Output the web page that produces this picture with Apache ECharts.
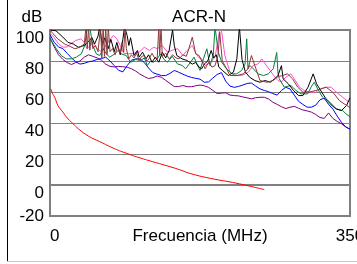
<!DOCTYPE html>
<html><head><meta charset="utf-8">
<script src="https://cdn.jsdelivr.net/npm/echarts@6/dist/echarts.min.js"></script>
<style>html,body{margin:0;padding:0;background:#fff}#c{width:357px;height:264px}</style>
</head><body><div id="c"></div>
<script>
const title = 'ACR-N';
const yName = 'dB';
const xName = 'Frecuencia (MHz)';
const yTicks = [-20, 0, 20, 40, 60, 80, 100];
const xTicks = [0, 350];

const black = [[0,100],[7,99.5],[15,95.4],[21,92],[27,91],[33,88.9],[40,90],[46,93.2],[49,95],[52,91],[56,96],[58,102],[61,90],[64,95],[68,88],[71,94],[75,86],[78,92],[82,84],[85,94],[87,102],[90,96.5],[92,90],[94,95],[98,83.5],[102,86.8],[104,82.5],[108,85.7],[112,81.4],[115,84],[119,79.2],[123,82.5],[127,79.2],[131,85.7],[135,82],[139,86.8],[143,100],[145,90],[148,83.5],[154,81.4],[160,80.3],[166,78],[170,79],[174,76],[177,75],[180,78],[184,80],[188,86.8],[191,82],[194,84],[197,76],[201,74],[208,70.6],[214,72.8],[218,81.4],[221,102],[224,81],[228,72.8],[233,69.5],[239,67.4],[245,66.3],[251,67.4],[257,66.3],[262,68.5],[266,70.6],[268,70.6],[270,77],[272,68.5],[278,65.3],[284,61],[290,57.7],[295,57.7],[301,63.1],[307,71.7],[311,65.3],[317,59.9],[322,55.6],[328,52.4],[334,49.1],[340,48],[346,51.3],[350,56.3]];

const brown = [[0,100],[2,98.6],[9,94.3],[17,91],[23,89.5],[29,87.9],[35,88.9],[40,91],[42,102],[43.5,88],[45,102],[46.5,87],[48,95],[50,88],[53,90],[56,86],[59,102],[60.5,82],[62,102],[63.5,83],[65,102],[66.5,84],[68,102],[70,86],[73,88],[76,84],[79,90],[82,85],[84,92],[86,85.7],[87.5,102],[89,88],[92,81.4],[95,84],[98,82],[101,85],[104,80.3],[107,83],[110,83.5],[113,80],[115.5,81.4],[119,85],[122,82],[125,81.4],[127,102],[128,84],[129.5,102],[131,83],[135,85],[139,81.4],[143,84],[147,82],[150.5,81.4],[155,84],[159,83],[162,87.9],[166,95.4],[170,84.6],[174,83.5],[177,80],[181,75],[185,79.2],[189,76],[192.5,77],[196,83.5],[198,98.6],[201,80],[204,77.1],[210,70.6],[218,70.6],[225.5,71.7],[231,75],[235,83.5],[239,77],[245,67.4],[253,66.3],[260.5,67.4],[266,70],[271.5,70.6],[277,71.7],[283,68.5],[289,63.1],[295,59.9],[302.5,59.9],[310,61],[316,62],[322,63.1],[330,59.9],[337.5,54.5],[343,52.4],[350,50]];

const pink = [[0,98],[5,95],[10,91],[15,89],[20,89],[24,91],[30,93.2],[36,94.3],[40,92],[43,88],[47,90],[50,92],[55,88],[60,86],[65,90],[70,93.9],[74,96.5],[78,94.3],[82,90],[84,91],[86,85],[92,84.6],[98,85],[104,85.7],[110,88.9],[116,86.8],[121,88.9],[125,88],[131,90],[137,85.7],[143,87],[149,87.9],[155,83.5],[160,86.8],[166,90],[170,85],[174,82],[177,81.4],[181,77.1],[187,79],[192.5,82.5],[196.3,94.3],[198.3,102],[200.3,98.6],[204,83.5],[210,72.8],[216,70.6],[223.6,70.6],[231.3,72.8],[237,77.1],[243,78.2],[247,81.4],[251,78.2],[256.7,73.9],[262.5,69.5],[266,67.4],[270,66.5],[275,69.5],[281,71.7],[285,68.5],[291,63.1],[296.7,61],[302.5,59.9],[310,59.9],[316,62],[322,63.1],[328,63.1],[331.7,61],[341.5,56.6],[350,53]];

const green = [[0,95],[1.5,93.2],[7.4,87.9],[13,83.5],[19,81.4],[25,81.4],[30.7,82.5],[36.5,84.6],[40.5,90],[43.5,102],[46.3,102],[50,90],[54,84.6],[58,83.5],[62,87.9],[65.7,84.6],[69.7,82.5],[75.5,84.6],[79.3,86.8],[83,84.6],[89,83.5],[94,79.2],[100,81],[105.8,80.3],[110,82],[113.5,77.1],[117.5,80],[121.3,79.2],[125,81.4],[129,84.6],[133,81],[137,79.2],[142.7,83],[148.5,78.2],[154.3,77.1],[158.3,75],[164,79.2],[168,82.5],[171.5,78],[175,73.9],[179,81.4],[183,87.9],[186.7,77],[190.5,84],[192.5,102],[194.5,102],[196.3,85.7],[200.3,79.2],[206,75],[212,71.7],[217.8,71.7],[223.6,73.9],[227.5,78],[229.5,94.3],[231,75],[233.3,77.1],[237,75],[243,71.7],[249,70.6],[254.7,71.7],[260.5,75],[264.5,85.5],[266,72],[267.5,68.5],[273.3,63.1],[281,64.2],[287,61],[292.8,58.8],[300.7,58.8],[304.5,63.1],[308.3,66.3],[312.3,62],[318,56.6],[326,52.4],[333.7,49.1],[341.5,48],[345.3,45.9],[350,44]];

const blue = [[0,97],[5,92],[10,89],[15,88],[20,85],[25,82],[30,79.5],[35,78],[40,78.5],[45,79.5],[50,80],[55,81],[60,81.5],[65,82.5],[70,80],[75,77],[80,74],[85,73],[90,77],[95,80.5],[100,81.4],[105,81.4],[110,79],[115,75.5],[120,72.5],[125,71.5],[130,70.6],[135,70.6],[140,72],[145,73.9],[150,72.8],[155,71.5],[160,70.3],[165,69.4],[170,68.8],[175,68.3],[180,66.3],[185,66.5],[190,69],[195,71.3],[200,72.5],[205,67],[210,63.8],[215,63],[220,63.6],[225,64.5],[230,65.5],[235,65.8],[240,63.8],[245,62],[250,61],[255,60.2],[260,59],[265,58],[270,61],[275,63],[280,62],[285,58],[290,54],[295,52],[300,50.2],[305,50.2],[310,51.5],[315,55],[320,56],[325,52],[330,49],[335,44.5],[340,40.5],[345,37.5],[350,36]];

const purple = [[0,95],[5,89],[10,84],[15,81],[20,79],[25,77.7],[30,79],[35,80],[40,82.5],[45,84],[50,83],[55,82],[60,80.5],[65,78],[70,76.5],[75,76.2],[80,76.5],[85,76.3],[90,76],[95,75],[100,73.5],[105,71.5],[110,70],[115,68.7],[120,69.2],[125,70.3],[130,69.5],[135,67.5],[140,65.5],[145,63.5],[150,63.5],[155,64.2],[160,63.4],[165,63.4],[170,64],[175,64.5],[180,64],[185,63],[190,61],[195,59],[200,59.3],[205,59.5],[210,58],[215,57.7],[220,57.5],[225,56.8],[230,56.2],[235,55.6],[240,56.3],[245,56.6],[250,56.6],[255,55.5],[260,53.4],[265,52],[270,50.5],[275,49.3],[280,50.2],[285,50.7],[290,49.5],[295,48.4],[300,47.8],[305,47],[310,45.5],[315,43.5],[320,43],[325,46.5],[330,43],[335,41],[340,39.5],[345,37.5],[350,36]];

const limit = [[1,62],[3,59],[5.5,56.6],[9.3,51.3],[15,47],[21,42.7],[27,39.5],[33,36.3],[45,31.5],[58,28],[75,23.5],[90,20.3],[105,17.5],[120,15],[140,11.8],[152,9.7],[163,7.5],[187,4.3],[218,1.1],[250,-3]];

const FONT = '"Liberation Sans", Arial, sans-serif';
const FS = 17;
const chart = echarts.init(document.getElementById('c'), null, {renderer: 'canvas'});
function line(data, color, smooth) {
  return {type: 'line', data: data, showSymbol: false, symbol: 'none', smooth: !!smooth,
    lineStyle: {color: color, width: 1}, itemStyle: {color: color}, clip: true, silent: true, animation: false};
}
chart.setOption({
  animation: false,
  backgroundColor: '#fff',
  grid: {left: 50, right: 7, top: 30, bottom: 48, outerBoundsMode: 'none', containLabel: false,
         show: true, borderColor: '#808080', borderWidth: 2, backgroundColor: 'transparent'},
  xAxis: {
    type: 'value', min: xTicks[0], max: xTicks[1], interval: xTicks[1] - xTicks[0],
    name: xName, nameLocation: 'middle', nameGap: 12, nameMoveOverlap: false,
    nameTextStyle: {fontFamily: FONT, fontSize: FS, color: '#000', verticalAlign: 'top'},
    axisLine: {show: true, lineStyle: {color: '#808080', width: 2}},
    axisTick: {show: false}, splitLine: {show: false},
    axisLabel: {fontFamily: FONT, fontSize: FS, color: '#000', margin: 12, alignMinLabel: 'left', alignMaxLabel: 'center', hideOverlap: false}
  },
  yAxis: {
    type: 'value', min: yTicks[0], max: yTicks[yTicks.length - 1], interval: 20,
    axisLine: {show: true, lineStyle: {color: '#808080', width: 2}},
    axisTick: {show: false},
    splitLine: {show: true, lineStyle: {color: '#808080', width: 1}},
    axisLabel: {
      fontFamily: FONT, fontSize: FS, color: '#000', margin: 6, hideOverlap: false,
      formatter: function (v) { return v === yTicks[0] ? '{b|' + v + '}' : '{a|' + v + '}'; },
      rich: {
        a: {fontFamily: FONT, fontSize: FS, color: '#000', padding: [17, 0, 0, 0]},
        b: {fontFamily: FONT, fontSize: FS, color: '#000'}
      }
    }
  },
  graphic: [
    {type: 'text', x: 199, y: 17, style: {text: title, font: FS + 'px ' + FONT, fill: '#000', align: 'center', verticalAlign: 'middle'}},
    {type: 'text', x: 32, y: 17, style: {text: yName, font: FS + 'px ' + FONT, fill: '#000', align: 'center', verticalAlign: 'middle'}},
    {type: 'line', shape: {x1: 7.5, y1: 0, x2: 7.5, y2: 262}, style: {stroke: '#000', lineWidth: 1}},
    {type: 'line', shape: {x1: 7, y1: 261.5, x2: 357, y2: 261.5}, style: {stroke: '#c8c8c8', lineWidth: 1}}
  ],
  series: [
    line(purple, '#800080'),
    line(blue, '#0000ff'),
    line(pink, '#ff4fc8'),
    line(green, '#007f3f'),
    line(black, '#000000'),
    line(brown, '#8b3a3a'),
    line(limit, '#ff0000', true)
  ]
});
</script></body></html>
